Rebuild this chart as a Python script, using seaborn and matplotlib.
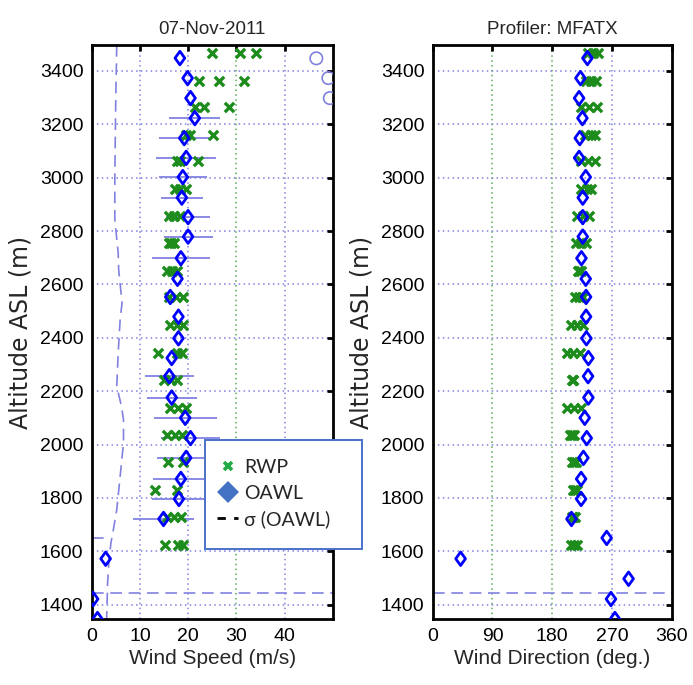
import numpy as np
import pandas as pd
import matplotlib
matplotlib.use("Agg")
import matplotlib.pyplot as plt
from matplotlib.lines import Line2D
from matplotlib.patches import Rectangle
from matplotlib.path import Path
import seaborn as sns

# OAWL retrievals (lidar), one value per range gate
oawl_alt = [3448, 3373, 3298, 3223, 3148, 3074, 3002, 2925, 2852, 2779,
            2698, 2621, 2553, 2479, 2398, 2324, 2256, 2176, 2100, 2024,
            1950, 1871, 1796, 1721, 1650, 1572, 1497, 1421, 1346]
oawl_speed = [18.3, 19.9, 20.5, 21.4, 19.2, 19.6, 18.9, 18.7, 20.0, 20.0,
              18.5, 17.8, 16.3, 18.0, 18.0, 16.6, 16.1, 16.6, 19.4, 20.5,
              19.6, 18.5, 18.1, 14.9, np.nan, 2.9, np.nan, 0.3, 1.2]
oawl_speed_err = [np.nan, np.nan, np.nan, 5.3, 5.2, 6.2, 5.0, 4.4, 4.6, 5.1,
                  6.0, np.nan, np.nan, np.nan, np.nan, np.nan, 5.1, 5.2, 6.5, 6.2,
                  6.1, 5.7, 5.6, 6.3, np.nan, np.nan, np.nan, np.nan, np.nan]
oawl_dir = [233, 222.5, 220.5, 225.5, 221.5, 220.5, 230.5, 226, 226, 226,
            224, 230.5, 231, 231, 231.5, 234.5, 234, 234.5, 229, 232,
            227, 223.5, 223.5, 209, 262, 42, 295, 268.5, 274.5]

# Radar wind profiler, three beams per range gate
rwp_alt = [3467, 3362, 3265, 3160, 3062, 2959, 2857, 2754, 2650, 2551,
           2447, 2343, 2240, 2137, 2037, 1933, 1831, 1728, 1625]
rwp_speed_a = [24.9, 22.3, 21.4, 19.6, 17.8, 17.3, 16.0, 16.0, 15.6, 16.1,
               16.3, 13.8, 15.0, 16.3, 15.6, 15.9, 13.1, 15.6, 15.2]
rwp_speed_b = [30.8, 26.4, 23.2, 20.4, 18.4, 18.4, 17.0, 16.5, 16.7, 17.5,
               17.6, 17.6, 16.4, 18.0, 17.2, 19.0, 17.6, 17.1, 18.0]
rwp_speed_c = [34.0, 31.5, 28.5, 25.2, 22.1, 19.5, 18.3, 17.0, 17.8, 18.9,
               18.9, 18.8, 17.8, 19.6, 18.7, np.nan, np.nan, 18.6, 19.0]
rwp_dir_a = [234, 231, 224, 230, 224, 224, 218, 216, 219, 215,
             208, 203, 210, 203, 207, 210, 212, 210, 209]
rwp_dir_b = [242, 239, 236, 238, 234, 232, 226, 224, 221, 221,
             217, 212, 211, 213, 210, 213, 215, 212, 213]
rwp_dir_c = [249, 246, 248, 244, 244, 238, 236, 231, 223, 226,
             226, 222, 212, 224, 213, 216, 218, 214, 217]

# OAWL speed standard deviation profile
sigma_alt = [3497, 3300, 3004, 2842, 2718, 2655, 2531, 2467, 2344, 2217,
             2142, 2093, 2006, 1880, 1756, 1681, 1632, 1568, 1481, 1347]
sigma_speed = [5.2, 5.0, 4.8, 4.8, 5.5, 5.6, 6.3, 5.9, 5.5, 5.2,
               6.2, 6.6, 6.6, 5.9, 5.2, 4.5, 4.0, 3.6, 3.3, 3.1]
sigma_floor_alt = 1650
sigma_floor_speed = [0.0, 3.8]

# Flagged points beyond the speed range
flag_speed = [46.6, 49.1, 49.4]
flag_alt = [3447, 3373, 3298]

boundary_alt = 1444

speed_ticks = [0, 10, 20, 30, 40]
dir_ticks = [0, 90, 180, 270, 360]
alt_ticks = list(range(1400, 3401, 200))

title_left = "07-Nov-2011"
title_right = "Profiler: MFATX"

oawl = pd.DataFrame({"alt": oawl_alt, "speed": oawl_speed,
                     "err": oawl_speed_err, "dir": oawl_dir})
rwp = pd.DataFrame({"alt": rwp_alt * 3,
                    "speed": rwp_speed_a + rwp_speed_b + rwp_speed_c,
                    "dir": rwp_dir_a + rwp_dir_b + rwp_dir_c})
sigma = pd.DataFrame({"alt": sigma_alt, "speed": sigma_speed})

sns.set_theme(style="white")
plt.rcParams["font.family"] = ["Liberation Sans", "DejaVu Sans"]

GREEN = "#1d8c1d"
BLUE = "#0000ff"
PERI = "#8181e0"
GRID_GREEN = "#55aa55"

# open diamond, a little wider than matplotlib's thin diamond
DIAMOND = Path([(0, 1), (0.72, 0), (0, -1), (-0.72, 0), (0, 1)],
               [Path.MOVETO, Path.LINETO, Path.LINETO, Path.LINETO,
                Path.CLOSEPOLY])

fig = plt.figure(figsize=(6.93, 6.85), dpi=100)
fig.patch.set_facecolor("white")
ax1 = fig.add_axes([0.1323, 0.0959, 0.3478, 0.8384])
ax2 = fig.add_axes([0.6244, 0.0959, 0.3449, 0.8384])


def style_axes(ax, xlim, xticks, green_x):
    ax.set_facecolor("white")
    ax.set_xlim(*xlim)
    ax.set_ylim(1345, 3497)
    ax.set_xticks(xticks)
    ax.set_yticks(alt_ticks)
    ax.grid(True, color=PERI, linestyle=(0, (1, 2.2)), linewidth=1.1)
    for val, gl in zip(xticks, ax.get_xgridlines()):
        if val in green_x:
            gl.set_color(GRID_GREEN)
    for sp in ax.spines.values():
        sp.set_visible(True)
        sp.set_color("black")
        sp.set_linewidth(2.0)
    ax.tick_params(axis="both", which="both", direction="in", length=4,
                   width=2, color="black", top=True, right=True,
                   labelsize=14, pad=6, labelcolor="black")
    ax.set_axisbelow(True)


style_axes(ax1, (0, 50), speed_ticks, [30])
style_axes(ax2, (0, 360), dir_ticks, [90, 180])

# ---- Wind speed panel ----
ax1.errorbar(oawl["speed"], oawl["alt"], xerr=oawl["err"], fmt="none",
             ecolor=PERI, elinewidth=1.3, capsize=0, zorder=2)
sns.lineplot(data=sigma, x="speed", y="alt", orient="y", sort=False, ax=ax1,
             color=PERI, linewidth=1.2, dashes=False, zorder=2)
ax1.lines[-1].set_dashes((7, 4))
ax1.plot(sigma_floor_speed, [sigma_floor_alt] * 2, color=PERI, lw=1.2,
         dashes=(7, 4), zorder=2)
ax1.axhline(boundary_alt, color=PERI, lw=1.2, dashes=(7, 4), zorder=2)
sns.scatterplot(data=rwp, x="speed", y="alt", ax=ax1, marker="x",
                color=GREEN, s=45, linewidth=2.4, zorder=3, legend=False)
sns.scatterplot(data=oawl, x="speed", y="alt", ax=ax1, marker=DIAMOND,
                color=BLUE, facecolor="none", edgecolor=BLUE, s=95,
                linewidth=2.0, zorder=4, legend=False)
sns.scatterplot(x=flag_speed, y=flag_alt, ax=ax1, marker="o",
                color=PERI, facecolor="none", edgecolor=PERI, s=80,
                linewidth=1.2, zorder=4, legend=False)

ax1.set_xlabel("Wind Speed (m/s)", fontsize=15, labelpad=3)
ax1.set_ylabel("Altitude ASL (m)", fontsize=17, labelpad=5,
               family=["DejaVu Sans"])
ax1.set_title(title_left, fontsize=13.5, pad=8)

# ---- Wind direction panel ----
ax2.axhline(boundary_alt, color=PERI, lw=1.2, dashes=(7, 4), zorder=2)
sns.scatterplot(data=rwp, x="dir", y="alt", ax=ax2, marker="x",
                color=GREEN, s=45, linewidth=2.4, zorder=3, legend=False)
sns.scatterplot(data=oawl, x="dir", y="alt", ax=ax2, marker=DIAMOND,
                color=BLUE, facecolor="none", edgecolor=BLUE, s=95,
                linewidth=2.0, zorder=4, legend=False)

ax2.set_xlabel("Wind Direction (deg.)", fontsize=15, labelpad=3)
ax2.set_ylabel("Altitude ASL (m)", fontsize=17, labelpad=5,
               family=["DejaVu Sans"])
ax2.set_title(title_right, fontsize=13.5, pad=8)

# ---- Key box spanning the gap between panels ----
box = Rectangle((205 / 693, 1 - 549 / 685), 157 / 693, 109 / 685,
                transform=fig.transFigure, facecolor="white",
                edgecolor="#4a72c8", linewidth=1.4, zorder=4)
fig.patches.append(box)

handles = [
    Line2D([], [], linestyle="none", marker="x", color="#22aa44",
           markersize=6, markeredgewidth=2.6),
    Line2D([], [], linestyle="none", marker="D", color="#4472c4",
           markersize=11, markeredgewidth=0),
    Line2D([], [], color="black", linewidth=2, dashes=(3, 3)),
]
labels = ["RWP", "OAWL", "\u03c3 (OAWL)"]
leg = fig.legend(handles, labels, loc="upper left",
                 bbox_to_anchor=(213 / 693, 1 - 455 / 685),
                 borderaxespad=0, frameon=False, handlelength=1.1,
                 handletextpad=0.3, labelspacing=0.45, borderpad=0.2,
                 prop={"family": ["Lato", "DejaVu Sans"], "size": 14})
leg.set_zorder(6)

fig.savefig("out.png", dpi=100, facecolor="white")
